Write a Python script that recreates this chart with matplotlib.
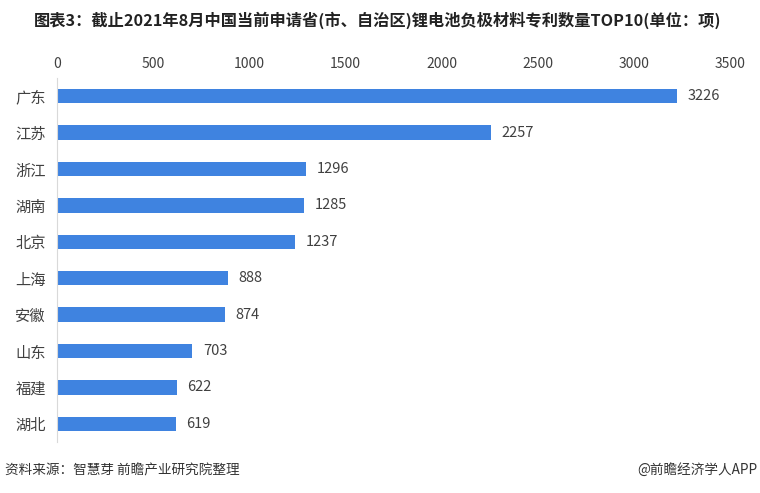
import matplotlib
matplotlib.use('Agg')
import matplotlib.pyplot as plt

plt.rcParams['font.family'] = ['Noto Sans CJK SC', 'DejaVu Sans']

provinces = ['广东', '江苏', '浙江', '湖南', '北京', '上海', '安徽', '山东', '福建', '湖北']
patents = [3226, 2257, 1296, 1285, 1237, 888, 874, 703, 622, 619]
xticks = [0, 500, 1000, 1500, 2000, 2500, 3000, 3500]

title = '图表3：截止2021年8月中国当前申请省(市、自治区)锂电池负极材料专利数量TOP10(单位：项)'
source = '资料来源：智慧芽 前瞻产业研究院整理'
brand = '@前瞻经济学人APP'

bar_color = '#3f83e0'
text_color = '#404040'

fig = plt.figure(figsize=(7.6, 4.93), dpi=100)
ax = fig.add_axes([57 / 760, 1 - 442 / 493, 673 / 760, 364 / 493])

y = range(len(provinces))
ax.barh(y, patents, height=0.4, color=bar_color)
for i, v in enumerate(patents):
    ax.text(v + 55, i, str(v), va='center', ha='left', fontsize=10.5, color=text_color)

ax.set_xlim(0, 3500)
ax.set_ylim(len(provinces) - 0.5, -0.5)
ax.set_yticks(list(y))
ax.set_yticklabels(provinces, fontsize=11, color=text_color)
ax.set_xticks(xticks)
ax.set_xticklabels([str(t) for t in xticks], fontsize=10, color=text_color)
ax.xaxis.tick_top()
ax.tick_params(axis='x', length=0, pad=5)
ax.tick_params(axis='y', length=0, pad=8)
for s in ['top', 'right', 'bottom']:
    ax.spines[s].set_visible(False)
ax.spines['left'].set_color('#d9d9d9')

fig.text(34 / 760, 1 - 20 / 493, title, fontsize=11.7, fontweight='bold', color='#222222',
         ha='left', va='center')
fig.text(0.007, 1 - 470 / 493, source, fontsize=9.8, color='#333333', ha='left', va='center')
fig.text(0.996, 1 - 470 / 493, brand, fontsize=9.8, color='#333333', ha='right', va='center')

fig.savefig('out.png', dpi=100)
